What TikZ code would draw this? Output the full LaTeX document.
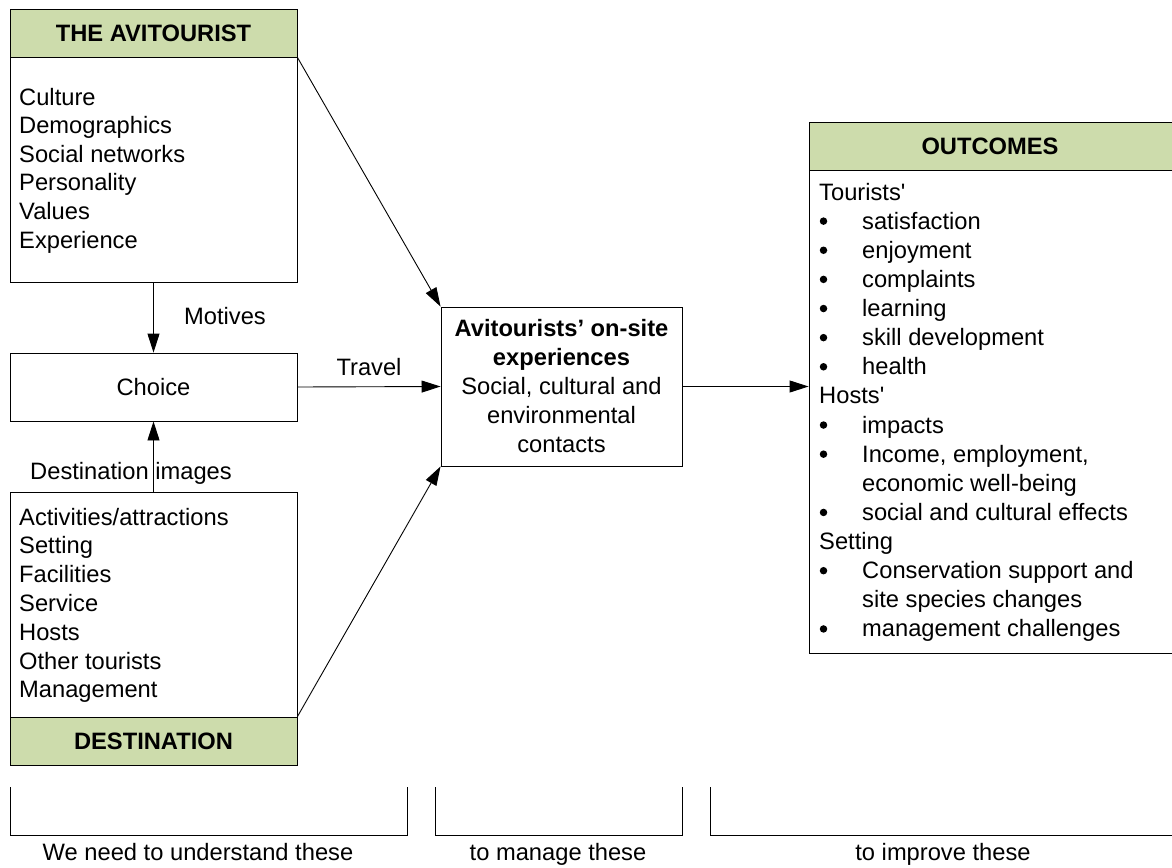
\documentclass[tikz,border=0pt]{standalone}
\usepackage{fontspec}
\setmainfont{Liberation Sans}
\usetikzlibrary{calc}
\usetikzlibrary{arrows.meta}
\definecolor{headgreen}{RGB}{205,220,172}
\newcommand{\txtsize}{\fontsize{23.7}{29}\selectfont}
\tikzset{
    box/.style={draw, line width=0.9pt, minimum width=287pt, inner sep=0pt},
    head/.style={box, fill=headgreen, minimum height=48pt, font=\txtsize\bfseries},
    item/.style={anchor=base west, inner sep=0pt},
    dot/.style={circle, fill, inner sep=0pt, minimum size=7.5pt},
    lbl/.style={anchor=base, inner sep=0pt},
    arr/.style={line width=0.9pt, -{Triangle[length=19pt,width=12pt]}}
}

\begin{document}
\begin{tikzpicture}[x=1pt, y=-1pt, font=\txtsize]
        \useasboundingbox (0,0) rectangle (1172,867);
    %left column
        \node[head] (tourhead) at (153.5,33) {THE AVITOURIST};
        \node[box, minimum height=225pt] (tourbody) at (153.5,169.5) {};
        \foreach \txt [count=\i from 0] in {Culture, Demographics, Social networks, Personality, Values, Experience}
            \node[item] (tour\i) at (19,{105+28.6*\i}) {\txt};

        \node[box, minimum height=68pt] (choice) at (153.5,387) {Choice};

        \node[box, minimum height=225pt] (destbody) at (153.5,604.5) {};
        \node[head] (desthead) at (153.5,741) {DESTINATION};
        \foreach \txt [count=\i from 0] in {Activities/attractions, Setting, Facilities, Service, Hosts, Other tourists, Management}
            \node[item] (dest\i) at (19,{525+28.8*\i}) {\txt};

    %middle
        \node[box, minimum width=241pt, minimum height=159pt, align=center] (exper) at (561.5,386.5)
            {\textbf{Avitourists’ on-site}\\\textbf{experiences}\\Social, cultural and\\environmental\\contacts};

    %outcomes
        \node[head, minimum width=372pt] (outhead) at (995,146) {};
        \node[font=\txtsize\bfseries] (outtitle) at (990,146) {OUTCOMES};
        \node[box, minimum width=372pt, minimum height=483pt] (outbody) at (995,411.5) {};
        \foreach \k/\txt [count=\i from 0] in {0/Tourists\textquotesingle, 1/satisfaction, 1/enjoyment, 1/complaints, 1/learning,
            1/skill development, 1/health, 0/Hosts\textquotesingle, 1/impacts, 1/{Income, employment,}, 2/economic well-being,
            1/social and cultural effects, 0/Setting, 1/Conservation support and, 2/site species changes, 1/management challenges} {
            \ifnum\k=0
                \node[item] (out\i) at (819,{200+29.13*\i}) {\txt};
            \else
                \node[item] (out\i) at (862,{200+29.13*\i}) {\txt};
            \fi
            \ifnum\k=1
                \node[dot] (bul\i) at (823.5,{192+29.13*\i}) {};
            \fi
        }

    %connectors
        \draw[arr] (tourbody.south) -- (choice.north);
        \draw[arr] (destbody.north) -- (choice.south);
        \draw[arr] (choice.east) -- (exper.west);
        \draw[arr] (tourhead.south east) -- (exper.north west);
        \draw[arr] (desthead.north east) -- (exper.south west);
        \draw[arr] (exper.east) -- (exper.east -| outbody.west);

        \node[lbl] (motives) at (225,324.5) {Motives};
        \node[lbl] (travel) at (369,375.5) {Travel};
        \node[lbl] (destimg) at (131,479.5) {Destination images};

    %brackets
        \foreach \a/\b in {10/407, 435/682, 710/1180}
            \draw[line width=0.9pt] (\a,787) -- (\a,835) -- (\b,835) -- (\b,787);
        \node[lbl] (understand) at (198,860) {We need to understand these};
        \node[lbl] (manage) at (558,860) {to manage these};
        \node[lbl] (improve) at (943,860) {to improve these};

        \end{tikzpicture}
\end{document}
